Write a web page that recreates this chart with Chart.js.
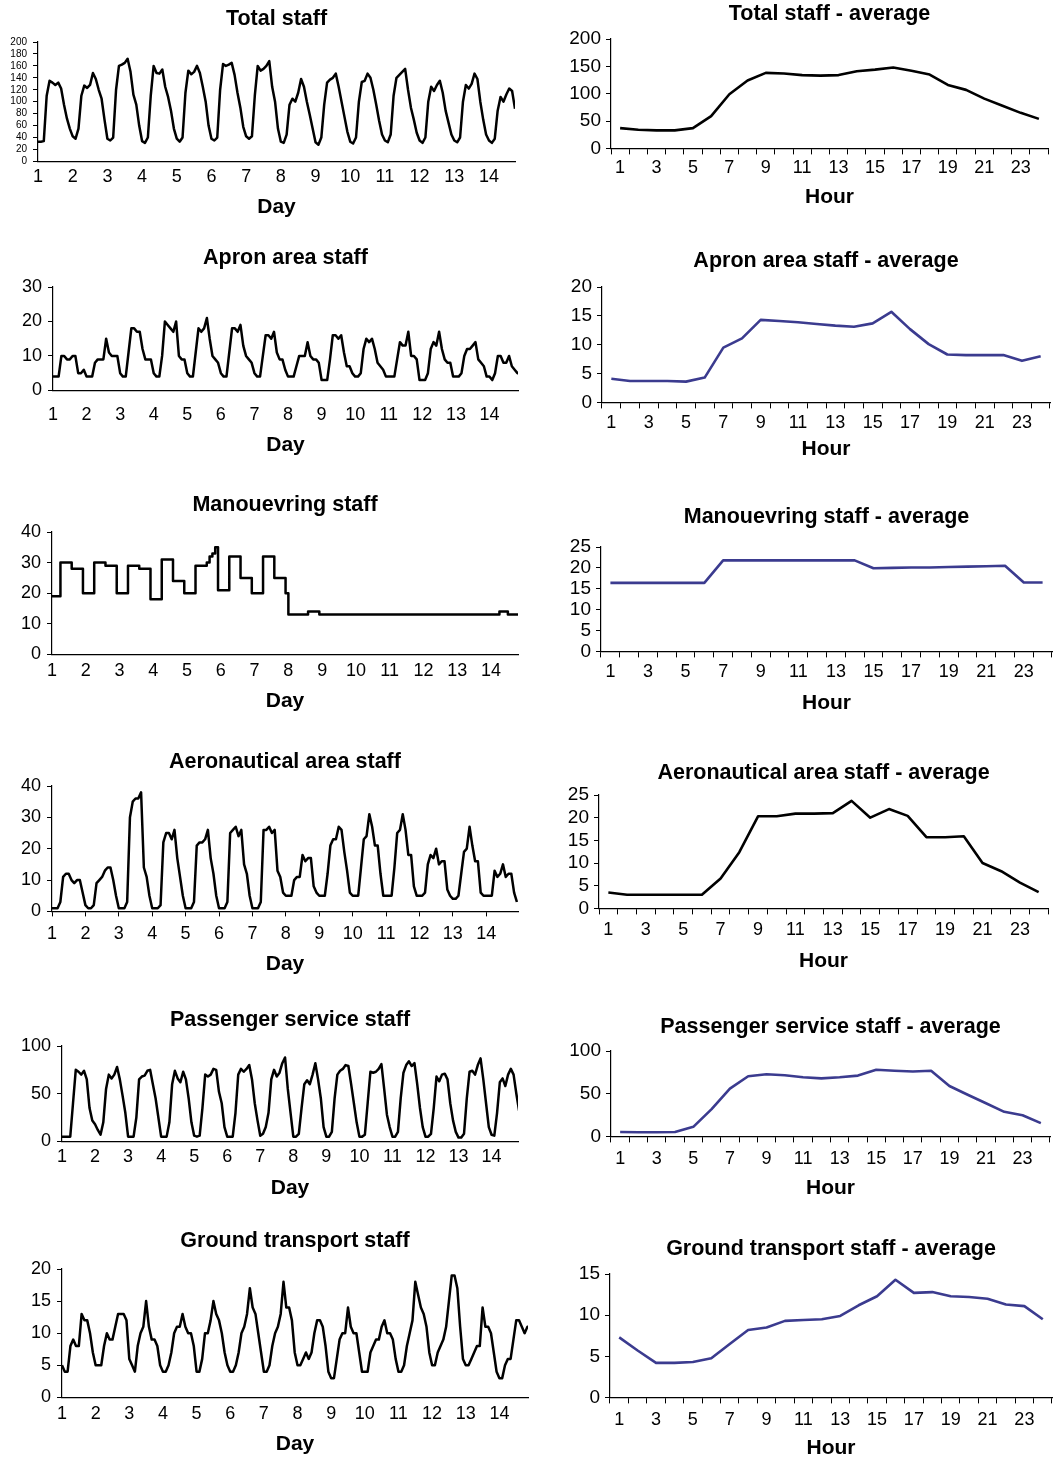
<!DOCTYPE html>
<html>
<head>
<meta charset="utf-8">
<script src="https://cdn.jsdelivr.net/npm/chart.js@4.4.1/dist/chart.umd.min.js"></script>
<style>
  html, body { margin: 0; padding: 0; background: #fff; }
  body { position: relative; width: 1056px; height: 1457px; overflow: hidden; }
</style>
</head>
<body>
<script>
// ---- data: left panels are 2-hourly samples (h0, h2, ... h22), one row per day ----
const totalStaff = [
  33,33,34,110,135,132,128,132,122,95,72,55,
  42,38,55,110,127,123,128,148,138,120,105,70,
  38,35,40,120,160,162,165,172,150,112,95,60,
  34,31,40,110,160,148,147,154,125,108,85,55,
  38,33,40,115,152,146,150,160,148,125,100,60,
  38,35,40,120,163,160,162,165,145,115,90,58,
  42,38,42,110,160,152,155,160,168,125,100,55,
  33,31,45,95,105,100,115,138,125,100,78,55,
  32,28,40,95,132,137,140,147,125,100,75,50,
  33,30,40,100,133,135,147,140,120,95,68,45,
  35,32,45,110,140,145,150,155,120,90,70,48,
  35,31,40,100,125,118,128,135,115,85,65,45,
  35,32,40,100,128,122,130,147,138,100,70,45,
  35,31,38,85,108,100,112,122,118,88,55,45
];
const apronStaff = [
  4,4,4,10,10,9,9,10,10,5,5,6,
  4,4,4,8,9,9,9,15,11,10,10,10,
  5,4,4,11,18,18,17,17,12,9,9,9,
  5,4,4,10,20,19,18,17,20,10,9,9,
  5,4,4,11,18,17,18,21,15,10,9,8,
  5,4,4,11,18,18,17,19,13,10,9,8,
  5,4,4,10,16,16,15,17,11,9,9,6,
  4,4,4,7,10,10,10,14,10,9,9,8,
  3,3,3,9,16,16,15,16,11,7,7,5,
  4,4,5,12,15,14,15,12,8,7,6,4,
  4,4,4,9,14,13,13,17,10,10,9,3,
  3,3,5,12,14,13,17,12,9,8,8,4,
  4,4,5,10,12,12,13,14,9,8,7,4,
  4,3,5,10,10,8,8,10,7,6,5,5
];
const manoeuvringStaff = [
  19,19,19,30,30,30,30,28,28,28,28,20,
  20,20,20,30,30,30,30,29,29,29,29,20,
  20,20,20,29,29,29,29,28,28,28,28,18,
  18,18,18,31,31,31,31,24,24,24,24,20,
  20,20,20,29,29,29,29,30,32,33,35,21,
  21,21,21,32,32,32,32,25,25,25,25,20,
  20,20,20,32,32,32,32,25,25,25,25,20,
  13,13,13,13,13,13,13,14,14,14,14,13,
  13,13,13,13,13,13,13,13,13,13,13,13,
  13,13,13,13,13,13,13,13,13,13,13,13,
  13,13,13,13,13,13,13,13,13,13,13,13,
  13,13,13,13,13,13,13,13,13,13,13,13,
  13,13,13,13,13,13,13,13,13,13,13,13,
  13,13,13,14,14,14,13,13,13,13,13,13
];
const aeronauticalStaff = [
  1,1,1,3,11,12,12,10,9,10,10,6,
  2,1,1,2,9,10,11,13,14,14,10,5,
  1,1,1,3,30,35,36,36,38,14,11,5,
  1,1,1,2,22,25,25,23,26,17,11,5,
  1,1,1,3,21,22,22,23,26,17,12,5,
  1,1,1,3,25,26,27,24,26,15,12,5,
  1,1,1,3,26,26,27,25,26,13,11,6,
  5,5,5,10,11,11,18,16,17,17,8,6,
  5,5,5,12,21,23,23,27,26,19,13,6,
  5,5,5,14,23,24,31,27,21,21,12,5,
  5,5,5,14,25,26,31,26,18,18,8,5,
  5,5,6,15,18,17,20,15,16,16,7,5,
  4,4,5,12,19,20,27,21,16,16,6,5,
  5,5,5,13,11,12,15,11,12,12,6,3
];
const passengerStaff = [
  5,5,5,5,40,75,73,70,74,65,35,22,
  18,12,7,20,55,70,66,70,78,65,48,30,
  5,5,5,25,65,68,69,74,75,60,45,25,
  5,5,5,20,60,74,66,62,73,65,45,20,
  6,5,6,35,70,68,70,76,75,52,40,15,
  5,5,5,30,70,76,73,76,80,65,40,22,
  6,8,15,30,65,75,68,72,82,88,55,30,
  5,5,8,35,60,64,60,70,82,65,45,15,
  5,5,10,45,70,74,76,80,79,60,40,20,
  5,5,7,40,73,72,73,76,81,55,28,15,
  5,5,10,45,72,80,84,79,82,60,35,15,
  5,5,8,35,68,63,70,71,65,40,22,10,
  4,4,8,45,73,74,70,80,87,65,40,15,
  7,6,30,62,66,58,70,76,70,50,32,20
];
const groundStaff = [
  5,4,4,8,9,8,8,13,12,12,10,7,
  5,5,5,8,10,9,9,11,13,13,13,12,
  6,5,4,8,10,11,15,11,9,9,8,5,
  4,4,5,7,10,11,11,13,11,10,10,8,
  4,4,6,10,10,12,15,13,12,10,7,5,
  4,4,5,7,10,11,13,17,14,13,10,7,
  4,4,5,8,10,11,13,18,14,14,12,7,
  5,5,6,7,6,7,10,12,12,11,8,4,
  3,3,6,9,10,10,14,11,10,10,7,4,
  4,4,7,8,9,9,11,12,10,10,9,6,
  4,4,5,8,10,12,18,16,14,13,11,7,
  5,5,7,8,9,11,15,19,19,17,11,6,
  5,5,6,7,8,8,14,11,11,10,7,4,
  3,3,5,6,6,9,12,12,11,10,11,11
];

// ---- data: right panels, hourly averages ----
const hourLabels = ['1','2','3','4','5','6','7','8','9','10','11','12',
                    '13','14','15','16','17','18','19','20','21','22','23','24'];
const totalAvg = [37,34,33,33,37,59,99,124,138,137,134,133,134,141,144,148,142,135,116,107,91,78,65,54];
const apronAvg = [4.1,3.7,3.7,3.7,3.6,4.3,9.5,11.1,14.3,14.1,13.9,13.6,13.3,13.1,13.7,15.7,12.7,10.1,8.3,8.2,8.2,8.2,7.2,8.0];
const manoeuvringAvg = [16.4,16.4,16.4,16.4,16.4,16.4,21.8,21.8,21.8,21.8,21.8,21.8,21.8,21.8,19.9,20,20.1,20.1,20.2,20.3,20.4,20.5,16.5,16.5];
const aeronauticalAvg = [3.5,3.0,3.0,3.0,3.0,3.0,6.6,12.4,20.3,20.3,20.9,20.9,21.0,23.7,20.0,21.9,20.4,15.7,15.7,15.9,10.0,8.2,5.7,3.6];
const passengerAvg = [5.2,4.8,4.8,5.2,11.2,32,56,70.4,72.8,71.6,69.2,68,69.2,71.2,78,76.8,76,76.8,59,48.8,38.8,28.8,24.8,15.6];
const groundAvg = [7.3,5.7,4.2,4.2,4.3,4.75,6.5,8.2,8.5,9.3,9.4,9.5,9.9,11.2,12.3,14.3,12.7,12.8,12.3,12.2,12.0,11.3,11.1,9.5];

const BLACK = '#000000';
const NAVY = '#3b3b8f';

Chart.defaults.font.family = "'Liberation Sans', Arial, Helvetica, sans-serif";
Chart.defaults.color = '#000';

// box = plot area [left, top, right, bottom] in page pixels
const panels = [
  { title: 'Total staff', xTitle: 'Day', values: totalStaff, ymax: 200, ystep: 20, yFont: 10, color: BLACK,
    box: [38, 43, 515, 161], titleY: 19, labelY: 177, axisTitleY: 207, xmax: 14.75 },
  { title: 'Apron area staff', xTitle: 'Day', values: apronStaff, ymax: 30, ystep: 10, yFont: 18, color: BLACK,
    box: [53, 288, 518, 390], titleY: 258, labelY: 415, axisTitleY: 445, xmax: 14.85 },
  { title: 'Manouevring staff', xTitle: 'Day', values: manoeuvringStaff, ymax: 40, ystep: 10, yFont: 18, color: BLACK,
    box: [52, 533, 518, 654], titleY: 505, labelY: 671, axisTitleY: 701, xmax: 14.8, stepped: true },
  { title: 'Aeronautical area staff', xTitle: 'Day', values: aeronauticalStaff, ymax: 40, ystep: 10, yFont: 18, color: BLACK,
    box: [52, 787, 518, 911], titleY: 762, labelY: 934, axisTitleY: 964, xmax: 14.95, xTicks: true },
  { title: 'Passenger service staff', xTitle: 'Day', values: passengerStaff, ymax: 100, ystep: 50, yFont: 18, color: BLACK,
    box: [62, 1047, 518, 1141], titleY: 1020, labelY: 1157, axisTitleY: 1188, xmax: 14.8 },
  { title: 'Ground transport staff', xTitle: 'Day', values: groundStaff, ymax: 20, ystep: 5, yFont: 18, color: BLACK,
    box: [62, 1270, 528, 1397], titleY: 1241, labelY: 1414, axisTitleY: 1444, xmax: 14.85 },

  { title: 'Total staff - average', xTitle: 'Hour', values: totalAvg, ymax: 200, ystep: 50, yFont: 19, color: BLACK,
    box: [611, 40, 1048, 148], titleY: 14, labelY: 168, axisTitleY: 197 },
  { title: 'Apron area staff - average', xTitle: 'Hour', values: apronAvg, ymax: 20, ystep: 5, yFont: 19, color: NAVY,
    box: [602, 288, 1050, 402], titleY: 261, labelY: 423, axisTitleY: 449 },
  { title: 'Manouevring staff - average', xTitle: 'Hour', values: manoeuvringAvg, ymax: 25, ystep: 5, yFont: 19, color: NAVY,
    box: [601, 548, 1052, 651], titleY: 517, labelY: 672, axisTitleY: 703 },
  { title: 'Aeronautical area staff - average', xTitle: 'Hour', values: aeronauticalAvg, ymax: 25, ystep: 5, yFont: 19, color: BLACK,
    box: [599, 796, 1048, 908], titleY: 773, labelY: 930, axisTitleY: 961 },
  { title: 'Passenger service staff - average', xTitle: 'Hour', values: passengerAvg, ymax: 100, ystep: 50, yFont: 19, color: NAVY,
    box: [611, 1052, 1050, 1136], titleY: 1027, labelY: 1159, axisTitleY: 1188 },
  { title: 'Ground transport staff - average', xTitle: 'Hour', values: groundAvg, ymax: 15, ystep: 5, yFont: 19, color: NAVY,
    box: [610, 1275, 1052, 1397], titleY: 1249, labelY: 1420, axisTitleY: 1448 }
];

function build(p) {
  const daily = p.xTitle === 'Day';
  const [l, t, r, b] = p.box;
  const yw = daily ? l : 50;          // width kept for the y axis
  const padR = daily ? 10 : 4;
  const left = l - yw;
  const top = p.titleY - 15;
  const xh = p.axisTitleY - b + 12.6; // height of x axis box (ticks + title)
  const w = yw + (r - l) + padR;
  const h = b + xh - top;
  const xTick = daily ? (p.xTicks ? 5 : 0) : 6;
  const xPad = p.labelY - b - xTick - 0.6 * 18;
  const titlePadBottom = t - top - 28.8;

  const cv = document.createElement('canvas');
  cv.width = w;
  cv.height = Math.ceil(h);
  cv.style.cssText = 'position:absolute;left:' + left + 'px;top:' + top + 'px;width:' + w + 'px;height:' + Math.ceil(h) + 'px';
  document.body.appendChild(cv);

  const axisTitle = { display: true, text: p.xTitle, color: '#000', font: { size: 21, weight: 'bold' }, padding: 0 };
  const border = { display: true, color: '#000', width: 1.2 };

  let xScale, data;
  if (daily) {
    xScale = {
      type: 'linear', min: 1, max: p.xmax,
      ticks: { stepSize: 1, autoSkip: false, maxRotation: 0, includeBounds: false, padding: xPad, font: { size: 18 } },
      grid: { display: xTick > 0, drawOnChartArea: false, drawTicks: xTick > 0, tickLength: 5, color: '#000' },
      border: border,
      title: axisTitle,
      afterFit: s => { s.height = xh; }
    };
    data = {
      datasets: [{
        data: p.values.map((v, i) => ({ x: 1 + i / 12, y: v })),
        borderColor: p.color, borderWidth: 2.5, pointRadius: 0, tension: 0,
        stepped: p.stepped || false, borderJoinStyle: 'round', fill: false
      }]
    };
  } else {
    xScale = {
      type: 'category', offset: true,
      ticks: {
        autoSkip: false, maxRotation: 0, padding: xPad, font: { size: 18 },
        callback: (v, i) => (i % 2 === 0 ? hourLabels[i] : '')
      },
      grid: { display: true, offset: true, drawOnChartArea: false, drawTicks: true, tickLength: 6, color: '#000' },
      border: border,
      title: axisTitle,
      afterFit: s => { s.height = xh; }
    };
    data = {
      labels: hourLabels,
      datasets: [{
        data: p.values,
        borderColor: p.color, borderWidth: 2.6, pointRadius: 0, tension: 0,
        borderJoinStyle: 'round', fill: false
      }]
    };
  }

  new Chart(cv, {
    type: 'line',
    data: data,
    options: {
      responsive: false,
      animation: false,
      events: [],
      layout: { padding: { left: 0, right: padR, top: 0, bottom: 0 } },
      scales: {
        x: xScale,
        y: {
          min: 0, max: p.ymax,
          ticks: { stepSize: p.ystep, autoSkip: false, padding: daily ? 6 : 5, font: { size: p.yFont } },
          grid: { display: true, drawOnChartArea: false, drawTicks: true, tickLength: 5, color: '#000' },
          border: border,
          afterFit: s => { s.width = yw; }
        }
      },
      plugins: {
        legend: { display: false },
        tooltip: { enabled: false },
        title: {
          display: true, text: p.title, fullSize: false, color: '#000',
          font: { size: 21.5, weight: 'bold' },
          padding: { top: 2, bottom: titlePadBottom }
        }
      }
    }
  });
}

panels.forEach(build);
</script>
</body>
</html>
